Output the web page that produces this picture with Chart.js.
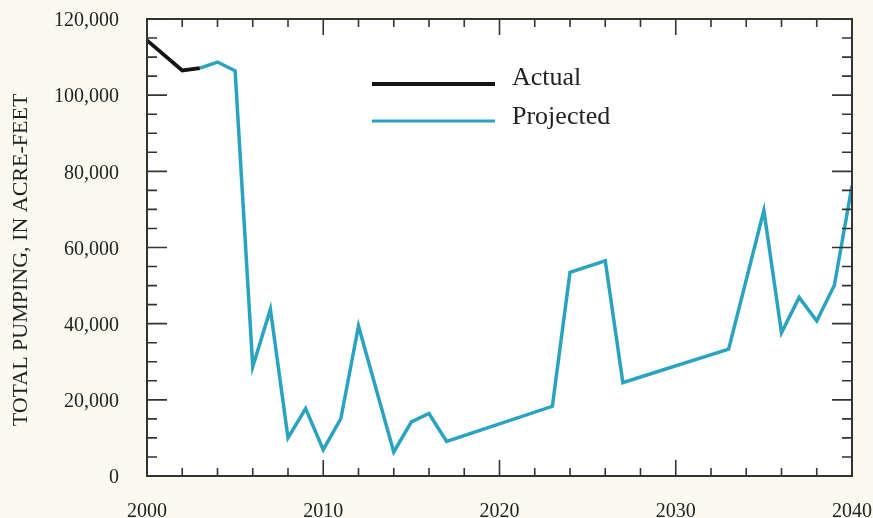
<!DOCTYPE html>
<html>
<head>
<meta charset="utf-8">
<title>Total pumping, in acre-feet</title>
<script src="https://cdn.jsdelivr.net/npm/chart.js@4.4.1/dist/chart.umd.min.js"></script>
<style>
  html, body { margin: 0; padding: 0; background: #fbfaf0; }
  #wrap { width: 873px; height: 518px; }
</style>
</head>
<body>
<div id="wrap"><canvas id="chart" width="873" height="518"></canvas></div>
<script>
// Annual pumping, in acre-feet
const actualYears = [2000, 2002, 2003];
const actualValues = [114400, 106500, 107100];

const projectedYears = [2003, 2004, 2005, 2006, 2007, 2008, 2009, 2010, 2011, 2012,
  2014, 2015, 2016, 2017, 2023, 2024, 2026, 2027, 2028, 2033,
  2035, 2036, 2037, 2038, 2039, 2040];
const projectedValues = [107100, 108700, 106400, 28700, 43800, 10000, 17700, 6900, 15100, 39400,
  6300, 14200, 16400, 9100, 18300, 53500, 56500, 24500, 26000, 33300,
  69700, 37600, 46900, 40700, 50100, 76200];

// Axis ticks and labels
const xLabelYears = [2000, 2010, 2020, 2030, 2040];
const xMinorYears = [2002, 2004, 2006, 2008, 2012, 2014, 2016, 2018, 2022, 2024, 2026, 2028,
  2032, 2034, 2036, 2038];
const yLabelValues = [0, 20000, 40000, 60000, 80000, 100000, 120000];
const yMinorValues = [5000, 10000, 15000, 25000, 30000, 35000, 45000, 50000, 55000,
  65000, 70000, 75000, 85000, 90000, 95000, 105000, 110000, 115000];

const legendItems = [
  { label: 'Actual', color: '#141414', width: 4 },
  { label: 'Projected', color: '#2aa3c0', width: 3.2 }
];
const yTitle = 'TOTAL PUMPING, IN ACRE-FEET';

const SERIF = '"Liberation Serif", "Times New Roman", serif';
const TEXT = '#222222';
const AXIS = '#333333';

const toPoints = (xs, ys) => xs.map((x, i) => ({ x: x, y: ys[i] }));

// Keep the plotting field at a fixed place regardless of label overhang
const noOverhang = s => {
  s.paddingTop = 0; s.paddingBottom = 0; s.paddingLeft = 0; s.paddingRight = 0;
};

// White plotting field, framed axes with inward ticks, title and legend
const frame = {
  id: 'frame',
  beforeDatasetsDraw(chart) {
    const { ctx, chartArea: a } = chart;
    ctx.save();
    ctx.fillStyle = '#ffffff';
    ctx.fillRect(a.left, a.top, a.right - a.left, a.bottom - a.top);
    ctx.restore();
  },
  afterDatasetsDraw(chart) {
    const { ctx, chartArea: a, scales } = chart;
    const xs = scales.x, ys = scales.y;
    ctx.save();
    ctx.strokeStyle = AXIS;
    ctx.lineWidth = 2;
    ctx.strokeRect(a.left, a.top, a.right - a.left, a.bottom - a.top);
    ctx.lineWidth = 1.6;
    ctx.beginPath();
    const vTick = (year, len) => {
      const px = xs.getPixelForValue(year);
      ctx.moveTo(px, a.bottom); ctx.lineTo(px, a.bottom - len);
      ctx.moveTo(px, a.top); ctx.lineTo(px, a.top + len);
    };
    const hTick = (val, len) => {
      const py = ys.getPixelForValue(val);
      ctx.moveTo(a.left, py); ctx.lineTo(a.left + len, py);
      ctx.moveTo(a.right, py); ctx.lineTo(a.right - len, py);
    };
    xMinorYears.forEach(y => vTick(y, 8));
    xLabelYears.forEach(y => vTick(y, 16));
    yMinorValues.forEach(v => hTick(v, 10));
    yLabelValues.forEach(v => hTick(v, 20));
    ctx.stroke();

    // axis title
    ctx.fillStyle = TEXT;
    ctx.font = '22px ' + SERIF;
    ctx.textAlign = 'center';
    ctx.textBaseline = 'middle';
    ctx.translate(21, 260);
    ctx.rotate(-Math.PI / 2);
    ctx.fillText(yTitle, 0, 0);
    ctx.restore();

    // legend
    ctx.save();
    ctx.font = '26px ' + SERIF;
    ctx.textAlign = 'left';
    ctx.textBaseline = 'middle';
    legendItems.forEach((item, i) => {
      const ly = a.top + 65 + i * 37;
      ctx.strokeStyle = item.color;
      ctx.lineWidth = item.width;
      ctx.beginPath();
      ctx.moveTo(a.left + 225, ly);
      ctx.lineTo(a.left + 348, ly);
      ctx.stroke();
      ctx.fillStyle = TEXT;
      ctx.fillText(item.label, a.left + 365, ly - 6 + i * 2);
    });
    ctx.restore();
  }
};

new Chart(document.getElementById('chart'), {
  type: 'line',
  data: {
    datasets: [
      {
        label: legendItems[1].label,
        data: toPoints(projectedYears, projectedValues),
        borderColor: legendItems[1].color,
        borderWidth: 3.5,
        pointRadius: 0,
        tension: 0,
        borderJoinStyle: 'miter',
        fill: false
      },
      {
        label: legendItems[0].label,
        data: toPoints(actualYears, actualValues),
        borderColor: legendItems[0].color,
        borderWidth: 3.8,
        pointRadius: 0,
        tension: 0,
        borderJoinStyle: 'miter',
        fill: false
      }
    ]
  },
  options: {
    responsive: false,
    animation: false,
    events: [],
    layout: { padding: { top: 19, right: 21, bottom: 0, left: 0 } },
    plugins: { legend: { display: false }, tooltip: { enabled: false } },
    scales: {
      x: {
        type: 'linear',
        min: 2000,
        max: 2040,
        afterFit(s) { s.height = 42; noOverhang(s); },
        afterBuildTicks(s) { s.ticks = xLabelYears.map(v => ({ value: v })); },
        grid: { display: false, drawTicks: false },
        border: { display: false },
        ticks: {
          padding: 24,
          maxRotation: 0,
          autoSkip: false,
          color: TEXT,
          font: { family: SERIF, size: 20 },
          callback: v => String(v)
        }
      },
      y: {
        type: 'linear',
        min: 0,
        max: 120000,
        afterFit(s) { s.width = 147; noOverhang(s); },
        afterBuildTicks(s) { s.ticks = yLabelValues.map(v => ({ value: v })); },
        grid: { display: false, drawTicks: false },
        border: { display: false },
        ticks: {
          padding: 28,
          labelOffset: 2,
          autoSkip: false,
          color: TEXT,
          font: { family: SERIF, size: 20 },
          callback: v => v.toLocaleString('en-US')
        }
      }
    }
  },
  plugins: [frame]
});
</script>
</body>
</html>
